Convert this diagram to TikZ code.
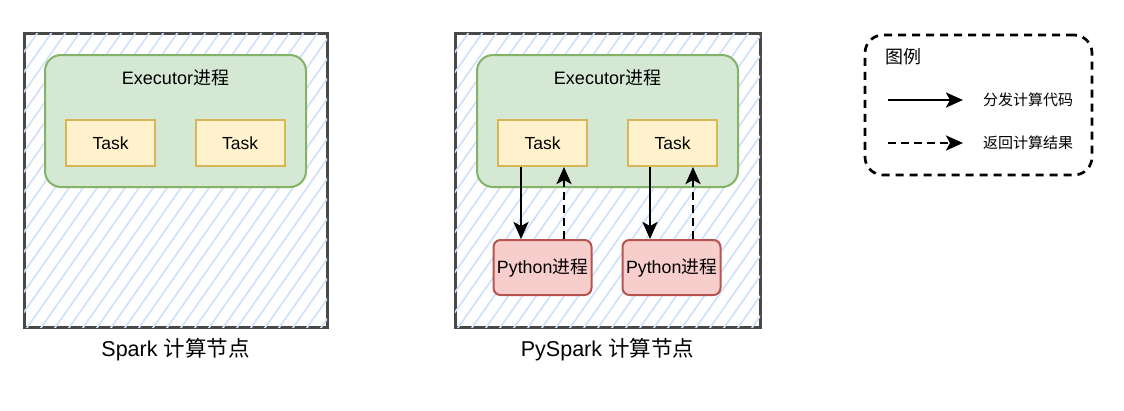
\documentclass[tikz,border=0pt]{standalone}
\usepackage{fontspec}
\setmainfont{Liberation Sans}
\newfontfamily\cjk{Noto Sans CJK SC}
\usetikzlibrary{arrows.meta}
\definecolor{hh}{RGB}{206, 224, 250}
\definecolor{gg}{RGB}{72, 72, 72}
\definecolor{ef}{RGB}{213, 232, 212}
\definecolor{ed}{RGB}{130, 179, 102}
\definecolor{tf}{RGB}{255, 242, 204}
\definecolor{td}{RGB}{214, 182, 86}
\definecolor{pf}{RGB}{248, 206, 204}
\definecolor{pd}{RGB}{184, 84, 80}

\begin{document}
\begin{tikzpicture}[
  node/.style={rectangle, minimum width=303pt, minimum height=294pt, line width=3pt, draw=gg, fill=white},
  exec/.style={rectangle, rounded corners=16pt, minimum width=261pt, minimum height=132pt, line width=2pt, draw=ed, fill=ef},
  task/.style={rectangle, minimum width=89pt, minimum height=46pt, line width=2pt, draw=td, fill=tf, font=\fontsize{17.5pt}{21pt}\selectfont},
  py/.style={rectangle, rounded corners=7pt, minimum width=98pt, minimum height=55pt, line width=2pt, draw=pd, fill=pf, inner sep=0pt, font=\fontsize{17.8pt}{21pt}\selectfont},
  txt/.style={inner sep=0pt, font=\fontsize{18pt}{21pt}\selectfont},
  call/.style={line width=2.7pt, -{Stealth[length=17pt,width=15pt,inset=4pt]}},
  back/.style={call, dash pattern=on 8pt off 5pt}
]
\useasboundingbox (0pt, 0pt) rectangle (1124pt, -410pt);
\node (nodeA) [node] at (175.5pt, -180pt) {};
\node (nodeB) [node, minimum width=305pt] at (607.5pt, -180pt) {};
\foreach \n in {nodeA, nodeB} {
  \begin{scope}
    \clip ([shift={(1.5pt,1.5pt)}]\n.south west) rectangle ([shift={(-1.5pt,-1.5pt)}]\n.north east);
    \foreach \i in {0,...,38}
      \draw [line width=1.6pt, color=hh] ([xshift={\i*14pt-220pt}]\n.south west) -- ++(210pt, 300pt);
  \end{scope}
}
\node (execA) [exec] at (175.5pt, -121pt) {};
\node (execB) [exec] at (607.5pt, -121pt) {};
\node (execlabelA) [txt] at (175.5pt, -78pt) {Executor{\cjk 进程}};
\node (execlabelB) [txt] at (607.5pt, -78pt) {Executor{\cjk 进程}};
\node (task1) [task] at (110.5pt, -143pt) {Task};
\node (task2) [task] at (240pt, -143pt) {Task};
\node (task3) [task] at (542.5pt, -143pt) {Task};
\node (task4) [task] at (672.5pt, -143pt) {Task};
\node (py1) [py] at (542.5pt, -267.5pt) {Python{\cjk 进程}};
\node (py2) [py] at (671.5pt, -267.5pt) {Python{\cjk 进程}};
\draw [call] ([xshift=-21.5pt]task3.south) -- ([xshift=-21.5pt]task3.south |- py1.north);
\draw [back] ([xshift=21.5pt]task3.south |- py1.north) -- ([xshift=21.5pt]task3.south);
\draw [call] ([xshift=-22.5pt]task4.south) -- ([xshift=-22.5pt]task4.south |- py2.north);
\draw [back] ([xshift=20.5pt]task4.south |- py2.north) -- ([xshift=20.5pt]task4.south);
\node (nameA) [txt, font=\fontsize{21.5pt}{25pt}\selectfont] at (175.5pt, -350pt) {Spark {\cjk 计算节点}};
\node (nameB) [txt, font=\fontsize{21.5pt}{25pt}\selectfont] at (607.5pt, -350pt) {PySpark {\cjk 计算节点}};
\node (legend) [rectangle, rounded corners=18pt, minimum width=227pt, minimum height=140pt, line width=2.7pt, draw=black, dash pattern=on 8pt off 6pt] at (978.5pt, -105pt) {};
\node (legendtitle) [txt, anchor=west] at (885pt, -57pt) {\cjk 图例};
\coordinate (s1) at (888pt, -100pt);
\coordinate (e1) at (963pt, -100pt);
\coordinate (s2) at (888pt, -143pt);
\coordinate (e2) at (963pt, -143pt);
\draw [call] (s1) -- (e1);
\draw [back] (s2) -- (e2);
\node (sendtext) [txt, anchor=west, font=\fontsize{15pt}{18pt}\selectfont] at (983pt, -100pt) {\cjk 分发计算代码};
\node (backtext) [txt, anchor=west, font=\fontsize{15pt}{18pt}\selectfont] at (983pt, -143pt) {\cjk 返回计算结果};
\end{tikzpicture}
\end{document}
